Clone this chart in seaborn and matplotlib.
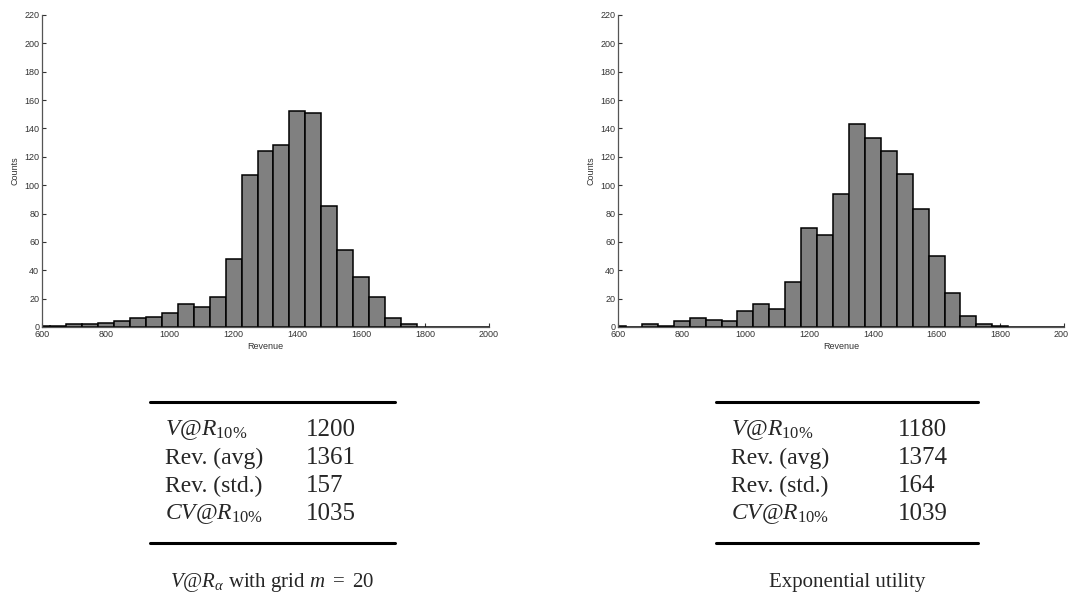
import numpy as np
import matplotlib
matplotlib.use("Agg")
import matplotlib.pyplot as plt
import seaborn as sns
from matplotlib.lines import Line2D

# histogram bins (centers, width 50) and counts
bin_centers = [600, 650, 700, 750, 800, 850, 900, 950, 1000, 1050, 1100, 1150,
               1200, 1250, 1300, 1350, 1400, 1450, 1500, 1550, 1600, 1650,
               1700, 1750, 1800, 1850, 1900, 1950, 2000]
counts_var = [1, 1, 2, 2, 3, 4, 6, 7, 10, 16, 14, 21,
              48, 107, 124, 128, 152, 151, 85, 54, 35, 21,
              6, 2, 0, 0, 0, 0, 0]
counts_exp = [1, 0, 2, 1, 4, 6, 5, 4, 11, 16, 13, 32,
              70, 65, 94, 143, 133, 124, 108, 83, 50, 24,
              8, 2, 1, 0, 0, 0, 0]

x_ticks = [600, 800, 1000, 1200, 1400, 1600, 1800, 2000]
y_ticks = list(range(0, 221, 20))

row_labels = [r'$V@R_{\mathrm{10\%}}$', 'Rev. (avg)', 'Rev. (std.)', r'$CV@R_{\mathrm{10\%}}$']
values_var = ['1200', '1361', '157', '1035']
values_exp = ['1180', '1374', '164', '1039']
caption_var = r'$V@R_{\alpha}$ with grid $m\ =\ 20$'
caption_exp = 'Exponential utility'

sns.set_style('ticks')
plt.rcParams['font.family'] = ['Liberation Sans', 'DejaVu Sans']
plt.rcParams['mathtext.fontset'] = 'custom'
plt.rcParams['mathtext.rm'] = 'Liberation Serif'
plt.rcParams['mathtext.it'] = 'Liberation Serif:italic'
plt.rcParams['mathtext.bf'] = 'Liberation Serif:bold'

W, H = 1068, 600
fig = plt.figure(figsize=(W / 100, H / 100), dpi=100)


def px_axes(x0, y0, x1, y1):
    return fig.add_axes([x0 / W, 1 - y1 / H, (x1 - x0) / W, (y1 - y0) / H])


def draw_hist(ax, counts):
    sns.histplot(x=bin_centers, weights=counts, binwidth=50, binrange=(575, 2025),
                 color='#808080', edgecolor='black', linewidth=1.1, alpha=1.0, ax=ax)
    ax.set_xlim(600, 2000)
    ax.set_ylim(0, 220)
    ax.set_xticks(x_ticks)
    ax.set_yticks(y_ticks)
    ax.tick_params(direction='in', length=3, width=0.8, labelsize=6.5,
                   colors='#333333', pad=2)
    for s in ['top', 'right']:
        ax.spines[s].set_visible(False)
    for s in ['left', 'bottom']:
        ax.spines[s].set_color('#555555')
        ax.spines[s].set_linewidth(0.9)
    ax.set_xlabel('Revenue', fontsize=6.5, color='#333333', labelpad=2)
    ax.set_ylabel('Counts', fontsize=6.5, color='#333333', labelpad=3)


ax1 = px_axes(42, 15, 489, 327)
draw_hist(ax1, counts_var)
ax2 = px_axes(618, 15, 1064, 327)
draw_hist(ax2, counts_exp)


def draw_table(x0, x1, xc2, values, caption):
    serif = ['Liberation Serif', 'DejaVu Serif']
    top, bottom = 402, 543
    for y in (top, bottom):
        fig.add_artist(Line2D([x0 / W, x1 / W], [1 - y / H, 1 - y / H],
                              color='black', linewidth=2.2))
    row_y = [430, 458, 486, 514]
    for lab, val, y in zip(row_labels, values, row_y):
        fig.text((x0 + 15) / W, 1 - y / H, lab, fontsize=17, family=serif,
                 ha='left', va='center')
        fig.text(xc2 / W, 1 - y / H, val, fontsize=18, family=serif,
                 ha='left', va='center')
    fig.text((x0 + x1) / 2 / W, 1 - 582 / H, caption, fontsize=15, family=serif,
             ha='center', va='center')


draw_table(150, 395, 306, values_var, caption_var)
draw_table(716, 978, 898, values_exp, caption_exp)

fig.savefig('out.png', dpi=100)
